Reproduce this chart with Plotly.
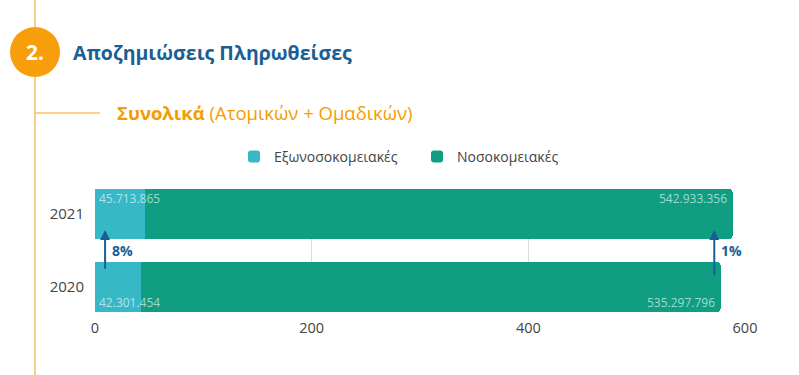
import plotly.graph_objects as go

years = ["2020", "2021"]
outpatient = [42.301454, 45.713865]      # Εξωνοσοκομειακές (εκατ.)
inpatient = [535.297796, 542.933356]     # Νοσοκομειακές (εκατ.)
outpatient_labels = ["42.301.454", "45.713.865"]
inpatient_labels = ["535.297.796", "542.933.356"]
changes = ["8%", "1%"]
series_names = ["Εξωνοσοκομειακές", "Νοσοκομειακές"]
x_ticks = [0, 200, 400, 600]

FONT = "Open Sans"
C_OUT = "#37B8C6"
C_IN = "#0F9E82"
BLUE = "#1A5E96"
ORANGE = "#F59C00"
LORANGE = "#FBBF66"

# plot area in pixels
L, R, T, B = 95, 745, 189, 312
W, H = R - L, B - T


def px(x):
    return (x - L) / W


def py(y):
    return (B - y) / H


fig = go.Figure()
fig.add_trace(go.Bar(y=years, x=outpatient, orientation="h", name=series_names[0],
                     marker=dict(color=C_OUT, line=dict(width=0)), width=0.684,
                     hoverinfo="skip"))
fig.add_trace(go.Bar(y=years, x=inpatient, orientation="h", name=series_names[1],
                     marker=dict(color=C_IN, line=dict(width=0)), width=0.684,
                     hoverinfo="skip"))

ann = []
lab_font = dict(family=FONT, size=12, color="rgba(255,255,255,0.62)")
for i, yr in enumerate(years):
    shift = 15 if i == 1 else -15
    ann.append(dict(x=0, y=i, xref="x", yref="y", text=outpatient_labels[i],
                    showarrow=False, xanchor="left", xshift=2, yshift=shift, font=lab_font))
    ann.append(dict(x=outpatient[i] + inpatient[i], y=i, xref="x", yref="y",
                    text=inpatient_labels[i], showarrow=False, xanchor="right",
                    xshift=-4, yshift=shift, font=lab_font))

# change arrows
arrow_x = [outpatient[0] * 0.22, outpatient[1] + inpatient[1] - 17]
arrow_base = [0.23, 0.14]
for j, (ax_, txt) in enumerate(zip(arrow_x, changes)):
    ann.append(dict(x=ax_, y=0.78, xref="x", yref="y", ax=ax_, ay=arrow_base[j],
                    axref="x", ayref="y", showarrow=True, arrowhead=2, arrowsize=1,
                    arrowwidth=2, arrowcolor=BLUE, text=""))
    ann.append(dict(x=ax_, y=0.5, xref="x", yref="y", text="<b>%s</b>" % txt,
                    showarrow=False, xanchor="left", xshift=5,
                    font=dict(family=FONT, size=14, color=BLUE)))

# header decorations
ann.append(dict(x=px(35), y=py(52), xref="paper", yref="paper", text="<b>2.</b>",
                showarrow=False, xanchor="center", yanchor="middle",
                font=dict(family=FONT, size=21, color="white")))
ann.append(dict(x=px(71), y=py(52), xref="paper", yref="paper",
                text="<b>Αποζημιώσεις Πληρωθείσες</b>", showarrow=False,
                xanchor="left", yanchor="middle",
                font=dict(family=FONT, size=19.5, color=BLUE)))
ann.append(dict(x=px(115), y=py(112), xref="paper", yref="paper",
                text="<b>Συνολικά</b> (Ατομικών + Ομαδικών)", showarrow=False,
                xanchor="left", yanchor="middle",
                font=dict(family=FONT, size=18.5, color=ORANGE)))

shapes = [
    dict(type="line", xref="paper", yref="paper", x0=px(35), x1=px(35),
         y0=py(0), y1=py(375), line=dict(color=LORANGE, width=1.5), layer="below"),
    dict(type="line", xref="paper", yref="paper", x0=px(35), x1=px(100),
         y0=py(113), y1=py(113), line=dict(color=LORANGE, width=1.5), layer="below"),
    dict(type="circle", xref="paper", yref="paper", x0=px(10), x1=px(60),
         y0=py(77), y1=py(27), fillcolor="#F89E0B", line=dict(width=0), layer="above"),
]

fig.update_layout(
    width=799, height=375,
    margin=dict(l=L, r=799 - R, t=T, b=375 - B, autoexpand=False),
    paper_bgcolor="white", plot_bgcolor="white",
    barmode="stack", barcornerradius=4,
    font=dict(family=FONT, color="#444"),
    showlegend=True,
    legend=dict(orientation="h", x=px(234), y=py(157), xanchor="left", yanchor="middle",
                entrywidth=138, entrywidthmode="pixels", traceorder="normal",
                font=dict(family=FONT, size=14, color="#444"), itemclick=False),
    xaxis=dict(range=[0, 600], tickvals=x_ticks, showgrid=True, gridcolor="#DCDCDC",
               gridwidth=1, zeroline=False, showline=False, ticklabelstandoff=5,
               tickfont=dict(family=FONT, size=14.5, color="#444"), fixedrange=True),
    yaxis=dict(type="category", categoryorder="array", categoryarray=years,
               range=[-0.342, 1.342], showgrid=False, zeroline=False, showline=False,
               ticklabelstandoff=10,
               tickfont=dict(family=FONT, size=15, color="#444"), fixedrange=True),
    annotations=ann, shapes=shapes,
)

fig.write_html("out.html")
